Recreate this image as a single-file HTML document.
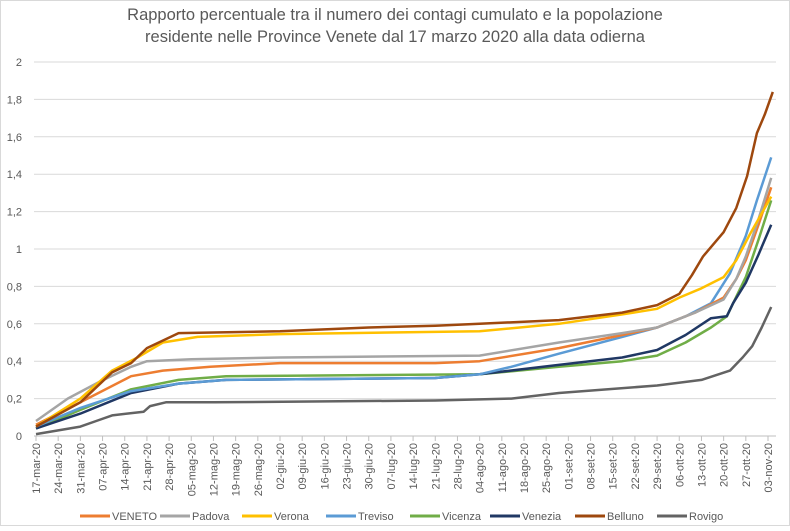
<!DOCTYPE html>
<html><head><meta charset="utf-8"><style>
body{margin:0;background:#fff}
svg text{font-family:"Liberation Sans",sans-serif;fill:#595959}
</style></head><body>
<svg id="s" width="790" height="526" xmlns="http://www.w3.org/2000/svg">
<rect x="0.5" y="0.5" width="789" height="525" fill="#fff" stroke="#d9d9d9"/>
<text x="395" y="20" font-size="16.5" text-anchor="middle">Rapporto percentuale tra il numero dei contagi cumulato e la popolazione</text>
<text x="395" y="42" font-size="16.5" text-anchor="middle">residente nelle  Province Venete dal 17 marzo 2020 alla data odierna</text>
<g id="g"></g>
</svg>
<script>
var g=document.getElementById('g'),h='';
function X(d){return 36+d*732/231}
function Y(v){return 436-v*187}
for(var i=0;i<=10;i++){var y=Y(i*0.2);h+='<line x1="34" x2="776" y1="'+y+'" y2="'+y+'" stroke="'+(i?'#d9d9d9':'#bfbfbf')+'"/>';
var l=(i*0.2).toFixed(1).replace('.',',');if(i==0)l='0';if(i==5)l='1';if(i==10)l='2';
h+='<text x="22" y="'+(y+4)+'" font-size="11" text-anchor="end">'+l+'</text>';}
var labs=['17-mar-20','24-mar-20','31-mar-20','07-apr-20','14-apr-20','21-apr-20','28-apr-20','05-mag-20','12-mag-20','19-mag-20','26-mag-20','02-giu-20','09-giu-20','16-giu-20','23-giu-20','30-giu-20','07-lug-20','14-lug-20','21-lug-20','28-lug-20','04-ago-20','11-ago-20','18-ago-20','25-ago-20','01-set-20','08-set-20','15-set-20','22-set-20','29-set-20','06-ott-20','13-ott-20','20-ott-20','27-ott-20','03-nov-20'];
for(var i=0;i<=33;i++){var x=X(i*7);h+='<line x1="'+x+'" x2="'+x+'" y1="436" y2="441" stroke="#bfbfbf"/>';
h+='<text transform="translate('+(x+4)+',443) rotate(-90)" font-size="11" text-anchor="end">'+labs[i]+'</text>';}
var S=[
['Rovigo','#636363',[[0,.01],[7,.03],[14,.05],[19,.08],[24,.11],[34,.13],[36,.16],[41,.18],[56,.18],[126,.19],[150,.2],[165,.23],[196,.27],[210,.3],[219,.35],[223,.42],[226,.48],[229,.58],[232,.69]]],
['Vicenza','#70AD47',[[0,.04],[14,.14],[30,.25],[45,.3],[60,.32],[140,.33],[165,.37],[185,.4],[196,.43],[205,.5],[213,.58],[218,.64],[224,.85],[228,1.05],[232,1.26]]],
['Venezia','#203864',[[0,.04],[14,.12],[30,.23],[45,.28],[60,.3],[126,.31],[140,.33],[165,.38],[185,.42],[196,.46],[205,.54],[213,.63],[218,.64],[220,.71],[224,.82],[228,.97],[232,1.13]]],
['Treviso','#5B9BD5',[[0,.05],[14,.15],[30,.24],[45,.28],[60,.3],[126,.31],[140,.33],[150,.37],[165,.44],[185,.53],[196,.58],[205,.64],[213,.71],[219,.87],[224,1.07],[227.5,1.26],[232,1.49]]],
['VENETO','#ED7D31',[[0,.06],[14,.18],[30,.32],[40,.35],[55,.37],[77,.39],[126,.39],[140,.4],[165,.47],[185,.54],[196,.58],[208,.66],[217,.74],[221,.84],[224,.94],[228,1.13],[232,1.33]]],
['Padova','#A5A5A5',[[0,.08],[10,.2],[20,.29],[30,.37],[35,.4],[49,.41],[77,.42],[140,.43],[165,.5],[185,.55],[196,.58],[208,.66],[217,.73],[221,.84],[224,.96],[228,1.16],[232,1.38]]],
['Verona','#FFC000',[[0,.05],[14,.2],[24,.35],[32,.42],[40,.5],[51,.53],[77,.545],[140,.56],[165,.6],[185,.65],[196,.68],[203,.74],[210,.79],[217,.85],[221,.94],[225,1.07],[232,1.28]]],
['Belluno','#9E480E',[[0,.05],[14,.18],[24,.34],[30,.39],[35,.47],[45,.55],[77,.56],[105,.58],[126,.59],[140,.6],[165,.62],[185,.66],[196,.7],[203,.76],[207,.86],[210.5,.96],[217,1.09],[221,1.22],[224.4,1.39],[227.5,1.62],[230,1.72],[232.5,1.84]]]];
S.forEach(function(s){h+='<polyline fill="none" stroke-width="2.5" stroke-linejoin="round" stroke="'+s[1]+'" points="'+s[2].map(function(p){return X(p[0]).toFixed(1)+','+Y(p[1]).toFixed(1)}).join(' ')+'"/>';});
var L=[['VENETO','#ED7D31'],['Padova','#A5A5A5'],['Verona','#FFC000'],['Treviso','#5B9BD5'],['Vicenza','#70AD47'],['Venezia','#203864'],['Belluno','#9E480E'],['Rovigo','#636363']];
var lx=[80,160,242,326,410,490,575,657];
L.forEach(function(l,i){var x=lx[i];h+='<line x1="'+x+'" x2="'+(x+30)+'" y1="516" y2="516" stroke="'+l[1]+'" stroke-width="3"/><text x="'+(x+32)+'" y="520" font-size="11">'+l[0]+'</text>';});
g.innerHTML=h;
</script>
</body></html>
